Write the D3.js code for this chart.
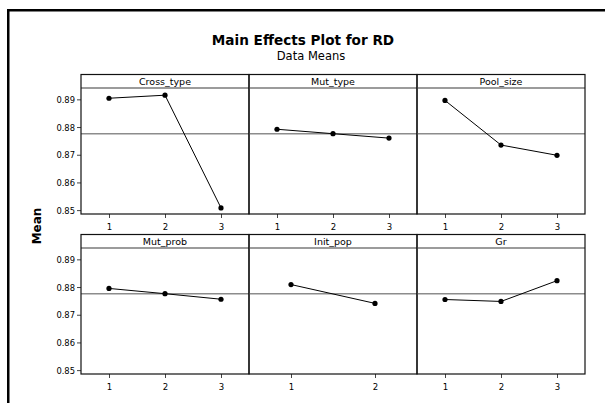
<!DOCTYPE html>
<html>
<head>
<meta charset="utf-8">
<script src="https://cdn.jsdelivr.net/npm/d3@7"></script>
<style>
  html, body { margin: 0; padding: 0; background: #fff; }
  svg { display: block; }
  text { font-family: "DejaVu Sans", sans-serif; fill: #000; }
</style>
</head>
<body>
<svg id="chart" width="605" height="403"></svg>
<script>
// ---- data ----
const factors = ["Cross_type", "Mut_type", "Pool_size", "Mut_prob", "Init_pop", "Gr"];
const levels = [
  ["1", "2", "3"],
  ["1", "2", "3"],
  ["1", "2", "3"],
  ["1", "2", "3"],
  ["1", "2"],
  ["1", "2", "3"]
];
const means = [
  [0.8904, 0.8915, 0.8508],
  [0.8792, 0.8776, 0.8760],
  [0.8896, 0.8735, 0.8698],
  [0.8795, 0.8776, 0.8756],
  [0.8809, 0.8741],
  [0.8755, 0.8748, 0.8823]
];
const grandMean = 0.8776;
const yTicks = [0.85, 0.86, 0.87, 0.88, 0.89];
const yDomain = [0.8486, 0.8941];

// ---- layout ----
const svg = d3.select("#chart");
const colX = [81, 249, 417];
const panelW = 168;
const rowTop = [74, 234];
const stripH = 14;
const plotH = 126;
const tickFont = "'DejaVu Sans Condensed', 'DejaVu Sans', sans-serif";

// outer frame
svg.append("rect").attr("x", 8.25).attr("y", 10.25).attr("width", 800).attr("height", 600)
  .attr("fill", "none").attr("stroke", "#000").attr("stroke-width", 2.5);

// titles
svg.append("text").attr("x", 303).attr("y", 45).attr("text-anchor", "middle")
  .attr("font-size", 13.6).attr("font-weight", "bold").text("Main Effects Plot for RD");
svg.append("text").attr("x", 311).attr("y", 60).attr("text-anchor", "middle")
  .attr("font-size", 11.5).text("Data Means");

// y axis label
svg.append("text").attr("transform", "translate(41,226) rotate(-90)").attr("text-anchor", "middle")
  .attr("font-size", 12).attr("font-weight", "bold").text("Mean");

factors.forEach((f, i) => {
  const col = i % 3, row = Math.floor(i / 3);
  const x0 = colX[col], top = rowTop[row];
  const py0 = top + stripH, py1 = py0 + plotH;
  const g = svg.append("g");

  const x = d3.scalePoint().domain(levels[i]).range([x0, x0 + panelW]).padding(0.5);
  const y = d3.scaleLinear().domain(yDomain).range([py1, py0]);

  // x axis
  const xAxis = g.append("g").attr("transform", `translate(0,${py1})`)
    .call(d3.axisBottom(x).tickSize(4).tickPadding(5).tickSizeOuter(0));
  xAxis.select(".domain").remove();
  xAxis.selectAll("line").attr("stroke", "#444");
  xAxis.selectAll("text").attr("font-size", 9.5).style("font-family", tickFont);

  // y axis on left column
  if (col === 0) {
    const yAxis = g.append("g").attr("transform", `translate(${x0},0)`)
      .call(d3.axisLeft(y).tickValues(yTicks).tickFormat(d3.format(".2f")).tickSize(4).tickPadding(2).tickSizeOuter(0));
    yAxis.select(".domain").remove();
    yAxis.selectAll("line").attr("stroke", "#444");
    yAxis.selectAll("text").attr("font-size", 9.3).style("font-family", tickFont);
  }

  // reference line
  g.append("line").attr("x1", x0).attr("x2", x0 + panelW)
    .attr("y1", y(grandMean)).attr("y2", y(grandMean))
    .attr("stroke", "#8c8c8c").attr("stroke-width", 1.4);

  // strip
  g.append("line").attr("x1", x0).attr("x2", x0 + panelW).attr("y1", py0).attr("y2", py0)
    .attr("stroke", "#7a7a7a").attr("stroke-width", 1.4);
  g.append("text").attr("x", x0 + panelW / 2).attr("y", top + 11).attr("text-anchor", "middle")
    .attr("font-size", 9.5).text(f);

  // panel border
  g.append("rect").attr("x", x0).attr("y", top + 0.5).attr("width", panelW).attr("height", py1 - top - 0.5)
    .attr("fill", "none").attr("stroke", "#111").attr("stroke-width", 1.2);

  // data line and points
  const pts = levels[i].map((l, j) => [x(l), y(means[i][j])]);
  g.append("path").attr("d", d3.line()(pts)).attr("fill", "none").attr("stroke", "#000").attr("stroke-width", 1);
  g.selectAll("circle").data(pts).join("circle")
    .attr("cx", d => d[0]).attr("cy", d => d[1]).attr("r", 2.6).attr("fill", "#000");
});
</script>
</body>
</html>
